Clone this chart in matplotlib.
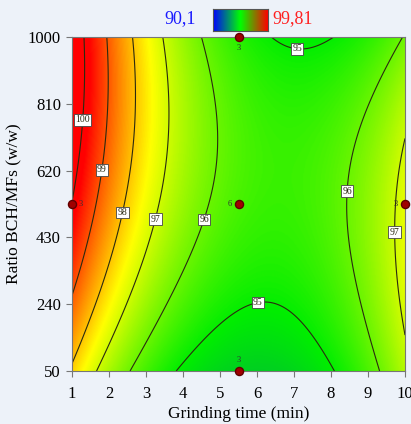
import numpy as np
import matplotlib
matplotlib.use("Agg")
import matplotlib.pyplot as plt
from matplotlib.colors import LinearSegmentedColormap

plt.rcParams['font.family'] = ['Liberation Serif', 'DejaVu Serif']

# contour readings (grinding time, ratio, level)
cx = [1.31, 1.30, 1.00,
      1.95, 1.81, 1.00,
      2.65, 2.30, 1.80, 1.00,
      3.45, 3.24, 2.65, 1.68,
      4.49, 4.86, 4.54, 3.80, 2.57,
      3.78, 5.90, 8.10, 6.35, 7.20, 8.05,
      9.95, 9.20, 8.40, 8.57, 9.30,
      9.90, 9.76, 9.73, 9.97]
cy = [1000, 764, 528,
      1000, 622, 266,
      1000, 502, 280, 76,
      1000, 482, 280, 50,
      1000, 593, 482, 280, 50,
      50, 243, 50, 1000, 969, 1000,
      1000, 849, 562, 366, 50,
      680, 445, 394, 170]
clev = [100, 100, 100,
        99, 99, 99,
        98, 98, 98, 98,
        97, 97, 97, 97,
        96, 96, 96, 96, 96,
        95, 95, 95, 95, 95, 95,
        96, 96, 96, 96, 96,
        97, 97, 97, 97]

# design points and replicate counts
pt_time = [1, 10, 5.5, 5.5, 5.5]
pt_ratio = [525, 525, 1000, 50, 525]
pt_count = ["3", "3", "3", "3", "6"]

levels = [95, 96, 97, 98, 99, 100]
xticks = [1, 2, 3, 4, 5, 6, 7, 8, 9, 10]
yticks = [50, 240, 430, 620, 810, 1000]
cmin, cmax = 90.1, 99.81


def terms(x, y):
    X = (np.asarray(x, float) - 5.5) / 4.5
    Y = (np.asarray(y, float) - 525) / 475
    return np.stack([np.ones_like(X), X, Y, X * X, Y * Y, X * Y,
                     X ** 3, Y ** 3, X * X * Y, X * Y * Y], axis=-1)


coef, *_ = np.linalg.lstsq(terms(cx, cy), np.asarray(clev, float), rcond=None)

gx = np.linspace(1, 10, 400)
gy = np.linspace(50, 1000, 400)
GX, GY = np.meshgrid(gx, gy)
Z = terms(GX, GY) @ coef

cmap = LinearSegmentedColormap.from_list(
    "de", [(0, "#0000ff"), (0.5, "#00ee00"), (0.76, "#ffff00"), (1, "#ff0000")])

fig = plt.figure(figsize=(4.11, 4.24), dpi=100)
fig.patch.set_facecolor("#edf2f9")
ax = fig.add_axes([72 / 411, 53 / 424, 333 / 411, 334 / 424])

ax.imshow(Z, origin="lower", extent=[1, 10, 50, 1000], aspect="auto",
          cmap=cmap, vmin=cmin, vmax=cmax, interpolation="bilinear")
cs = ax.contour(GX, GY, Z, levels=levels, colors="#2a2a10", linewidths=0.8)
lab_pos = [(1.3, 764), (1.81, 622), (2.3, 502), (3.24, 482), (4.54, 482),
           (8.4, 562), (9.76, 445), (7.1, 983), (6.0, 258)]
labels = ax.clabel(cs, fmt="%d", fontsize=7, manual=lab_pos, inline=False)
for t in labels:
    t.set_rotation(0)
    t.set_bbox(dict(facecolor="white", edgecolor="#444444", pad=1, linewidth=0.6))

ax.scatter(pt_time, pt_ratio, s=34, color="#a00000", edgecolor="#600000",
           zorder=5, clip_on=False)
offs = [(5, 0, "left", "center"), (-5, 0, "right", "center"),
        (0, -5, "center", "top"), (0, 5, "center", "bottom"),
        (-5, 0, "right", "center")]
for x, y, c, (dx, dy, ha, va) in zip(pt_time, pt_ratio, pt_count, offs):
    ax.annotate(c, (x, y), xytext=(dx, dy), textcoords="offset points",
                ha=ha, va=va, fontsize=6, color="#333333", zorder=6)

ax.set_xlim(1, 10)
ax.set_ylim(50, 1000)
ax.set_xticks(xticks)
ax.set_yticks(yticks)
ax.tick_params(labelsize=12, color="#777777", length=4, direction="out", pad=4)
ax.tick_params(axis="x", pad=7)
for s in ax.spines.values():
    s.set_color("#777777")
ax.set_xlabel("Grinding time (min)", fontsize=12.5, labelpad=3)
ax.set_ylabel("Ratio BCH/MFs (w/w)", fontsize=12.5, labelpad=4)

# colour bar at the top
cax = fig.add_axes([213 / 411, 1 - 31 / 424, 55 / 411, 22 / 424])
cax.imshow(np.linspace(0, 1, 256)[None, :], aspect="auto", cmap=LinearSegmentedColormap.from_list(
    "bar", ["#0000ff", "#00ff00", "#ff0000"]))
cax.set_xticks([])
cax.set_yticks([])
for s in cax.spines.values():
    s.set_color("#555555")
fig.text(180 / 411, 1 - 19 / 424, "90,1", color="#1a1aff", fontsize=13, ha="center", va="center")
fig.text(293 / 411, 1 - 19 / 424, "99,81", color="#ff2020", fontsize=13, ha="center", va="center")

fig.savefig("out.png", dpi=100, facecolor=fig.get_facecolor())
plt.close(fig)
